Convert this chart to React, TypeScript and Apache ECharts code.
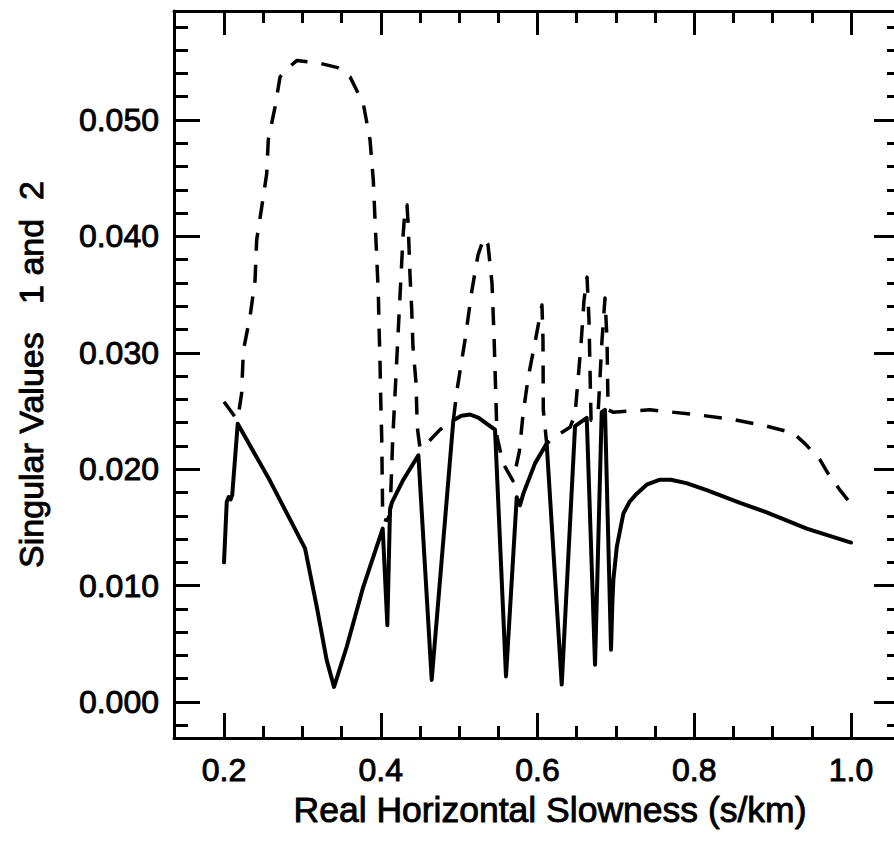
import React, { useEffect, useRef } from "react";
import * as echarts from "echarts";

// Axis extents
const X_MIN = 0.1362;
const X_MAX = 1.0625;
const Y_MIN = -0.00309;
const Y_MAX = 0.05936;

// Tick values of the slowness axis
const X_MAJOR_TICKS = [0.2, 0.4, 0.6, 0.8, 1.0];
const X_MINOR_TICKS = [0.25, 0.3, 0.35, 0.45, 0.5, 0.55, 0.65, 0.7, 0.75, 0.85, 0.9, 0.95];

const X_TITLE = "Real Horizontal Slowness (s/km)";
const Y_TITLE = "Singular Values   1 and  2";

// Singular value 1 (dashed) : [slowness, value]
const sigma1Points: number[][] = [
  [0.2, 0.0258], [0.214, 0.0245], [0.2175, 0.0243], [0.2225, 0.0265], [0.2247, 0.0302],
  [0.2332, 0.0331], [0.2396, 0.0362], [0.2417, 0.0397], [0.2481, 0.0425], [0.2545, 0.0454],
  [0.2565, 0.0483], [0.2651, 0.0511], [0.2715, 0.0537], [0.2842, 0.0546], [0.2928, 0.0551],
  [0.3203, 0.0549], [0.345, 0.0545], [0.3608, 0.0537], [0.3777, 0.0514], [0.3863, 0.0483],
  [0.3905, 0.0448], [0.3927, 0.0414], [0.3948, 0.0383], [0.3969, 0.0351], [0.3978, 0.0322],
  [0.399, 0.0294], [0.3999, 0.0262], [0.4012, 0.0228], [0.4025, 0.0157], [0.408, 0.0156],
  [0.4118, 0.0161], [0.4152, 0.0225], [0.4284, 0.03995], [0.4309, 0.0423], [0.4335, 0.0427],
  [0.4352, 0.0407], [0.4373, 0.0367], [0.4395, 0.0337], [0.4411, 0.0305], [0.445, 0.0274],
  [0.4466, 0.0236], [0.4501, 0.0218], [0.4586, 0.0222], [0.4756, 0.0234], [0.4926, 0.0242],
  [0.4973, 0.0268], [0.5075, 0.0311], [0.5164, 0.0354], [0.5241, 0.0384], [0.5317, 0.0399],
  [0.5368, 0.0393], [0.5419, 0.036], [0.5445, 0.0315], [0.547, 0.0259], [0.5483, 0.0228],
  [0.556, 0.0205], [0.5687, 0.019], [0.5768, 0.0215], [0.5815, 0.0247], [0.5879, 0.0278],
  [0.5968, 0.0309], [0.6057, 0.0341], [0.607, 0.0311], [0.6074, 0.0251], [0.6117, 0.0222],
  [0.6223, 0.0228], [0.6415, 0.0236], [0.6479, 0.0247], [0.6517, 0.0277], [0.6555, 0.0307],
  [0.6593, 0.0345], [0.6632, 0.0365], [0.6657, 0.0328], [0.667, 0.0285], [0.6683, 0.0242],
  [0.6772, 0.0247], [0.6823, 0.0311], [0.6861, 0.0347], [0.6887, 0.0311], [0.69, 0.0251],
  [0.6963, 0.0249], [0.7435, 0.0251], [0.8009, 0.0247], [0.8478, 0.0243], [0.8924, 0.0237],
  [0.9264, 0.0231], [0.9413, 0.0222], [0.9605, 0.0208], [0.971, 0.0196], [0.986, 0.0182],
  [0.9979, 0.0172], [1.0, 0.0171],
];

// Singular value 2 (solid) : [slowness, value]
const sigma2Points: number[][] = [
  [0.2, 0.012], [0.2035, 0.0172], [0.206, 0.0176], [0.2085, 0.0174], [0.2105, 0.0178],
  [0.2175, 0.0239], [0.2587, 0.019], [0.3034, 0.0132], [0.3183, 0.0082], [0.331, 0.0036],
  [0.3404, 0.0013], [0.3566, 0.00475], [0.3777, 0.0099], [0.4025, 0.0149], [0.4084, 0.0066],
  [0.4118, 0.0165], [0.414, 0.0171], [0.4288, 0.0191], [0.448, 0.0212], [0.465, 0.0019],
  [0.4926, 0.0242], [0.503, 0.0246], [0.5139, 0.0247], [0.525, 0.0244], [0.5394, 0.0237],
  [0.5458, 0.0234], [0.5598, 0.0022], [0.5735, 0.0176], [0.5777, 0.0169], [0.5819, 0.0179],
  [0.5968, 0.0205], [0.6117, 0.0222], [0.6309, 0.0015], [0.6479, 0.0237], [0.6628, 0.0244],
  [0.6734, 0.0032], [0.6819, 0.0249], [0.6861, 0.0251], [0.6938, 0.0045], [0.6955, 0.0085],
  [0.6968, 0.0105], [0.7011, 0.0133], [0.7096, 0.0162], [0.7175, 0.0172], [0.7266, 0.0179],
  [0.74, 0.0187], [0.7563, 0.0191], [0.77, 0.0191], [0.79, 0.0188], [0.8159, 0.0182],
  [0.8584, 0.0171], [0.8924, 0.0163], [0.9435, 0.0149], [1.0, 0.0137],
];

const FONT = "'Liberation Sans', Arial, Helvetica, sans-serif";
const BLACK = "#000";

export default function App() {
  const ref = useRef<HTMLDivElement>(null);

  useEffect(() => {
    if (!ref.current) return;
    const chart = echarts.init(ref.current, undefined, { renderer: "svg" });

    const axisLine = { show: true, onZero: false, lineStyle: { color: BLACK, width: 3 } };
    const noLine = { show: false, onZero: false };
    const tickStyle = { color: BLACK, width: 3 };
    const heavy = { textBorderColor: BLACK, textBorderWidth: 0.9 };

    const xBase = {
      type: "value" as const,
      min: X_MIN,
      max: X_MAX,
      splitLine: { show: false },
      minorTick: { show: false },
      minorSplitLine: { show: false },
    };
    const yBase = {
      type: "value" as const,
      min: Y_MIN,
      max: Y_MAX,
      minInterval: 0.01,
      maxInterval: 0.01,
      axisLine,
      splitLine: { show: false },
      minorSplitLine: { show: false },
    };

    const xMinorAxis = (position: "top" | "bottom") => ({
      ...xBase,
      position,
      axisLine: noLine,
      axisTick: {
        show: true,
        inside: true,
        length: 12,
        lineStyle: tickStyle,
        customValues: X_MINOR_TICKS,
      },
      axisLabel: { show: false },
    });

    chart.setOption({
      animation: false,
      backgroundColor: "#fff",
      grid: {
        left: 174,
        right: -6,
        top: 11,
        bottom: 106,
        containLabel: false,
        outerBoundsMode: "none",
      },
      xAxis: [
        {
          ...xBase,
          position: "bottom",
          axisLine,
          axisTick: {
            show: true,
            inside: true,
            length: 25,
            lineStyle: tickStyle,
            customValues: X_MAJOR_TICKS,
          },
          axisLabel: {
            show: true,
            margin: 16,
            color: BLACK,
            fontSize: 32,
            fontFamily: FONT,
            ...heavy,
            customValues: X_MAJOR_TICKS,
            formatter: (v: number) => v.toFixed(1),
          },
          name: X_TITLE,
          nameLocation: "middle",
          nameGap: 46,
          nameTextStyle: {
            color: BLACK,
            fontSize: 35.5,
            fontFamily: FONT,
            ...heavy,
            padding: [0, 0, 0, 26],
          },
        },
        {
          ...xBase,
          position: "top",
          axisLine,
          axisTick: {
            show: true,
            inside: true,
            length: 24,
            lineStyle: tickStyle,
            customValues: X_MAJOR_TICKS,
          },
          axisLabel: { show: false },
        },
        xMinorAxis("bottom"),
        xMinorAxis("top"),
      ],
      yAxis: [
        {
          ...yBase,
          position: "left",
          axisTick: { show: true, inside: true, length: 26, lineStyle: tickStyle },
          minorTick: { show: true, splitNumber: 5, length: 14, lineStyle: tickStyle },
          axisLabel: {
            show: true,
            margin: 15,
            color: BLACK,
            fontSize: 32,
            fontFamily: FONT,
            ...heavy,
            showMinLabel: false,
            showMaxLabel: false,
            formatter: (v: number) => v.toFixed(3),
          },
          name: Y_TITLE,
          nameLocation: "middle",
          nameRotate: 90,
          nameGap: 126,
          nameTextStyle: { color: BLACK, fontSize: 34, fontFamily: FONT, ...heavy },
        },
        {
          ...yBase,
          position: "right",
          axisTick: { show: true, inside: true, length: 26, lineStyle: tickStyle },
          minorTick: { show: true, splitNumber: 5, length: 13, lineStyle: tickStyle },
          axisLabel: { show: false },
        },
      ],
      series: [
        {
          type: "line",
          name: "Singular value 1",
          data: sigma1Points,
          xAxisIndex: 0,
          yAxisIndex: 0,
          symbol: "none",
          showSymbol: false,
          silent: true,
          lineStyle: { color: BLACK, width: 3.5, type: [18, 14], join: "round" },
        },
        {
          type: "line",
          name: "Singular value 2",
          data: sigma2Points,
          xAxisIndex: 0,
          yAxisIndex: 0,
          symbol: "none",
          showSymbol: false,
          silent: true,
          lineStyle: { color: BLACK, width: 4, type: "solid", join: "round", cap: "round" },
        },
      ],
    });

    return () => chart.dispose();
  }, []);

  return (
    <div
      ref={ref}
      style={{
        position: "fixed",
        left: 0,
        top: 0,
        width: 894,
        height: 844,
        background: "#fff",
      }}
    />
  );
}
